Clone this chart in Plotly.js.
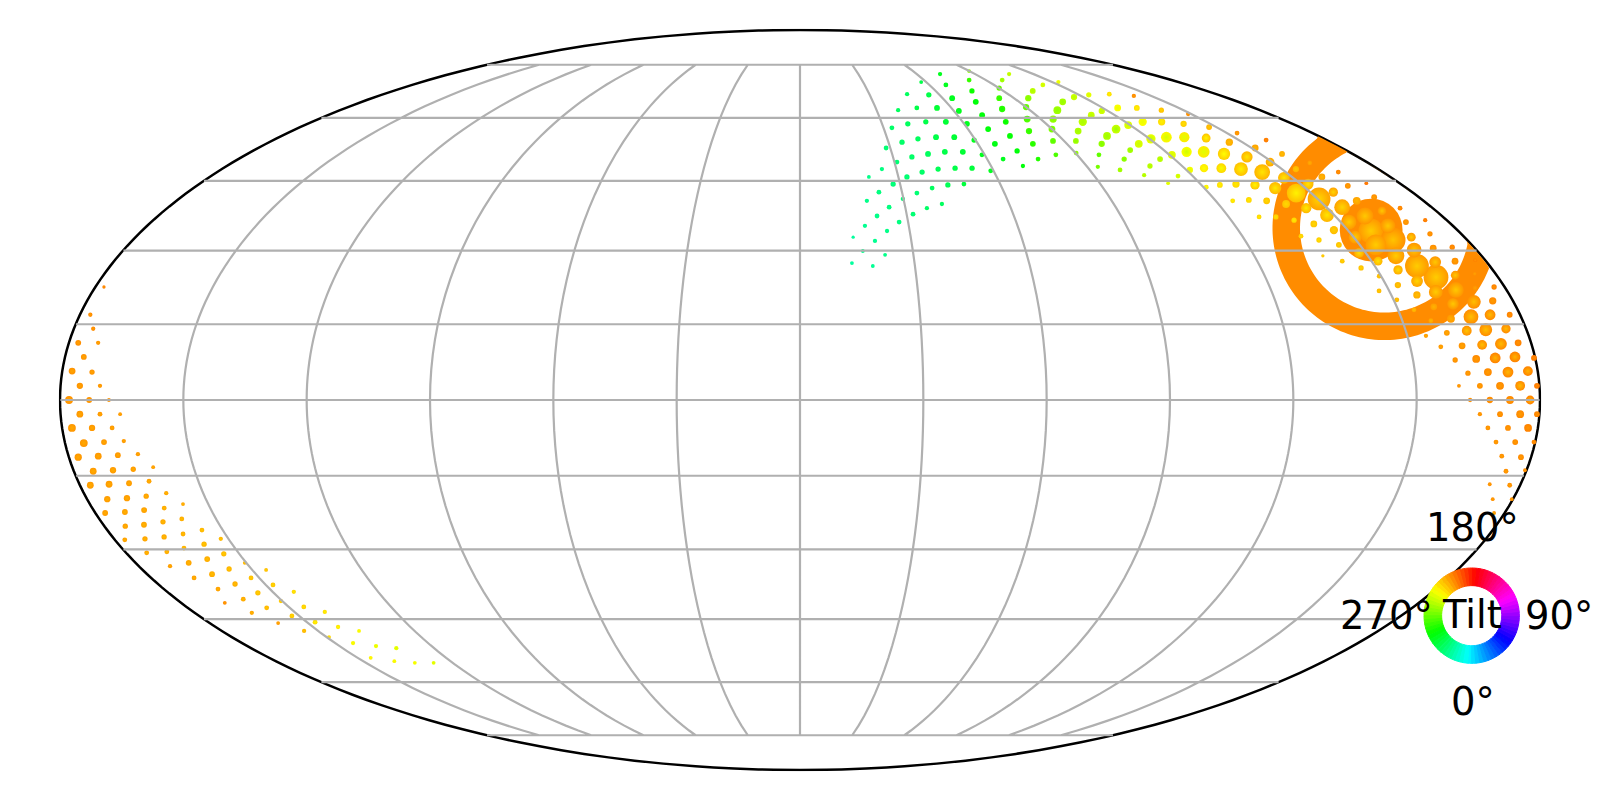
<!DOCTYPE html>
<html>
<head>
<meta charset="utf-8">
<script src="https://cdn.plot.ly/plotly-3.0.1.min.js"></script>
<style>html,body{margin:0;padding:0;background:#fff}</style>
</head>
<body>
<div id="chart" style="width:1600px;height:800px"></div>
<script>
////////////////// data ////////////////////////
const lon = [
89.8,72.0,57.6,67.7,81.9,76.1,64.0,55.4,46.3,72.2,54.3,46.3,
38.4,61.9,69.4,53.8,46.4,39.4,61.0,33.0,67.2,53.3,47.0,40.5,
34.6,59.5,28.6,65.7,53.4,47.5,41.7,36.1,59.1,30.8,25.5,53.7,
48.4,43.0,37.7,32.6,59.1,21.0,49.1,44.2,39.2,34.3,27.9,23.2,
29.8,19.3,40.7,36.1,25.4,31.8,21.6,27.5,17.9,23.8,14.4,20.2,
16.7,22.5,13.6,19.0,97.9,107.5,90.1,83.8,79.6,75.9,72.9,71.4,
65.1,70.0,76.3,83.1,78.5,86.2,94.0,90.2,81.1,90.0,98.5,84.9,
94.6,104.3,90.0,100.7,96.0,107.9,103.0,116.1,112.7,122.8,111.0,124.2,
133.7,142.5,117.6,125.9,133.5,141.4,148.8,106.6,112.9,119.3,126.4,133.4,
140.2,147.4,153.5,159.3,101.7,114.2,108.9,120.5,126.6,132.8,139.9,145.6,
151.2,97.1,103.9,115.4,120.8,126.8,132.4,138.1,144.2,149.3,93.3,99.4,
109.9,121.1,126.1,131.5,137.3,142.7,105.4,115.5,110.5,120.8,125.5,130.6,
136.0,141.0,124.9,129.8,134.7,128.5,133.2,157.0,161.5,154.4,147.2,159.1,
166.2,163.4,170.0,152.2,145.6,156.8,150.4,139.4,144.0,160.7,167.0,154.5,
148.0,170.7,137.5,142.1,174.0,168.1,146.2,171.5,165.6,135.9,140.0,144.4,
174.2,168.9,163.4,138.1,142.3,171.9,166.5,161.0,155.4,146.1,177.4,174.6,
149.5,169.3,164.0,158.5,153.0,177.3,172.3,147.4,167.1,161.7,156.5,150.8,
174.9,170.0,164.5,159.3,154.0,177.4,172.5,167.5,162.3,157.1,175.0,169.9,
165.1,160.0,154.6,176.8,172.5,167.8,162.8,157.5,175.1,170.2,165.5,160.3,
179.7,177.6,172.7,167.8,162.9,179.4,175.3,170.4,165.5,160.4,177.6,172.7,
167.8,163.0,179.4,175.3,170.4,165.5,177.6,172.7,167.8,179.7,175.1,170.4,
177.5,172.7,179.6,175.0,177.4,172.3,179.7,174.9,177.3,-177.8,-177.4,-175.2,
-177.7,-172.8,-175.4,-177.6,-172.7,-175.3,-170.4,-177.8,-172.9,-168.1,-175.3,-170.4,
-165.5,-177.6,-172.7,-167.8,-175.4,-170.4,-165.5,-177.7,-172.7,-167.8,-162.8,-175.2,
-170.2,-165.1,-160.0,-177.4,-172.6,-167.5,-162.3,-174.9,-169.8,-164.7,-159.3,-156.4,
-177.5,-172.3,-167.1,-161.7,-158.8,-174.6,-169.5,-164.1,-161.0,-177.4,-171.9,-166.5,
-174.5,-168.9,-163.5,-155.4,-152.0,-157.4,-154.1,-150.4,-146.2,-171.5,-165.6,-159.7,
-168.1,-162.1,-156.1,-152.3,-164.7,-158.4,-148.0,-144.0,-154.5,-160.7,-167.3,-150.4,
-156.8,-145.6,-141.0,-163.0,-152.2,-147.5,-159.1,-142.3,-137.3,-154.4,-149.2,-144.2,
-138.1,-132.4,-145.6,-139.3,-133.1,-126.6,156.4,158.4,152.3,156.1,162.1,160.0,
154.3,150.4,148.2,164.7,151.7,157.4
];
const lat = [
73.0,72.1,69.7,68.9,70.3,67.2,65.2,66.1,66.3,64.2,62.6,62.6,
62.0,61.8,60.7,59.0,59.0,58.5,58.5,57.5,57.2,55.2,55.2,54.8,
54.0,54.5,52.6,53.6,51.7,51.7,51.2,50.5,51.0,49.3,47.7,47.9,
47.9,47.7,47.0,45.9,47.3,45.9,44.3,44.1,43.4,42.3,44.3,42.5,
41.0,40.6,39.9,39.0,39.2,37.7,37.3,36.0,35.2,34.1,32.8,32.0,
29.9,29.1,27.4,26.8,70.3,72.1,68.0,65.2,62.3,59.0,55.5,51.9,
50.0,48.4,50.0,51.0,53.6,54.3,54.3,51.4,56.7,57.2,56.7,59.7,
59.7,59.0,62.8,62.0,65.2,64.2,67.2,65.5,68.9,69.7,60.7,66.1,
66.3,65.8,61.8,62.6,62.6,62.0,61.0,55.5,57.2,58.2,59.0,59.0,
58.5,57.7,56.2,54.5,53.6,53.6,52.1,54.8,55.2,55.2,55.0,54.0,
52.6,51.0,50.0,50.0,51.0,51.7,51.7,51.2,50.5,49.3,48.2,47.5,
48.4,47.5,47.9,47.9,47.7,47.0,46.3,46.1,44.5,43.6,44.1,44.3,
44.1,43.4,40.6,40.8,40.6,37.1,37.1,51.2,49.1,47.7,45.7,45.9,
47.0,43.9,44.5,44.3,42.3,42.5,41.0,39.9,39.0,40.6,41.4,39.2,
37.5,39.0,36.4,35.6,36.4,36.0,34.3,33.5,32.8,33.0,32.2,31.2,
30.7,30.5,30.1,28.9,27.8,27.8,27.6,26.8,26.0,26.4,28.0,25.2,
24.7,24.9,24.5,23.7,22.9,22.5,22.3,21.7,21.9,21.5,20.9,19.9,
19.7,19.5,19.1,18.5,17.9,16.9,16.9,16.5,16.1,15.7,14.1,13.9,
13.7,13.3,12.7,11.3,11.1,10.9,10.7,10.5,8.5,8.3,8.1,7.9,
8.3,5.7,5.5,5.5,5.3,2.8,2.8,2.8,2.8,2.8,0.0,0.0,
0.0,0.0,-2.8,-2.8,-2.8,-2.8,-5.5,-5.5,-5.5,-8.3,-8.3,-8.3,
-11.3,-11.1,-13.9,-14.1,-16.9,-16.7,-19.7,-19.7,-22.5,22.5,16.9,14.1,
11.3,11.3,8.5,5.7,5.5,2.8,2.8,0.0,0.0,0.0,-2.8,-2.8,
-2.8,-5.5,-5.5,-5.5,-8.5,-8.3,-8.1,-11.3,-11.1,-10.9,-10.7,-14.1,
-13.9,-13.7,-13.3,-16.9,-16.7,-16.5,-16.1,-19.7,-19.5,-19.1,-18.5,-20.7,
-22.5,-22.3,-21.9,-21.5,-23.7,-25.2,-24.9,-24.3,-26.8,-28.0,-27.8,-27.4,
-30.7,-30.5,-29.7,-26.0,-27.8,-28.9,-30.9,-32.8,-34.3,-33.5,-32.8,-32.0,
-36.0,-35.2,-34.1,-36.0,-38.4,-37.3,-37.5,-39.0,-39.2,-40.6,-41.4,-41.0,
-42.5,-42.3,-43.4,-43.6,-44.3,-45.7,-45.9,-46.8,-47.7,-47.7,-49.1,-50.5,
-51.2,-51.7,-54.0,-54.8,-55.2,-55.2,34.3,37.3,36.0,34.1,35.2,32.2,
31.2,32.8,29.5,38.4,27.8,28.9
];
const weight = [
3,3.5,3,4,4,4.5,5,4.5,3.5,5,5,4,3.5,5,5,5,4.5,4.5,5,4,
5,5,5,4.5,4.5,4.5,4,5,5,5,5,4.5,4,4,3.5,4.5,4.5,4.5,4.5,4.5,
4,3,4,4.5,4,4,4.5,4,3.5,3.5,3.5,3.5,4,4,4,4,3.5,3.5,2.5,3.5,
3,3,3,3,
4,3.5,4.5,5,5.5,5,5,4.5,4,3.5,4,4,5,5,5,4,5.5,6,6,6,
6.5,7.5,5.5,7,5.5,6,5,5.5,4,3.5,
6,4.5,4,3.5,5.5,6,5,4.5,3.5,7,8,7,7.5,6.5,5.5,5,4,4,5.5,7,
5,8.5,10,9.5,8,6.5,6,4,4.5,5,7,9.5,11,11.5,10.5,8,3.5,4,4.5,5.5,
7.5,9,13,15,3.5,4,3,4,5,6.5,8.5,11.5,4,5,6,4,4.5,
5,4,5.5,11,6,4,5,3,10,18,8.5,22,7,9.5,7,5,15,13,4,4.5,
6,3.5,5,7.5,4.5,8,4,4.5,5,4.5,6,14,2.5,4,6,11,23,8.5,4.5,3,
3.5,4,8,24,11,5.5,4.5,5,4,15,13,6.5,4,6.5,13,11,6,4,5,10,
14,7,4,8.5,12,9,5,3.5,6,11,9,6,4,
10,10,7,4.5,5,9,10,7,4.5,5,9,7,5,3,8,7,5.5,3.5,5,7,
5,3.5,7,5,4,4,5,4,5,4,3,4,4,3,3,3,3,
2.5,3.5,3.5,5,3.5,5,6,4.5,5.5,3.5,7,5,3,6,4,3,7,5.5,4,7,
5,3.5,6.5,6,5,3.5,6,5.5,4.5,3,6,6,5,4,5.5,5.5,4.5,3.5,3,5,
5,5,4,4,4.5,5,4.5,4,4,4.5,4.5,4,4,4,
4,3.5,4.5,4.5,3,3,3.5,5,5,4,5,4.5,4,4,4.5,4,3.5,4.5,4,3,
3.5,4,4,3.5,3.5,4,4,3,3.5,3,3.5,3,3.5,3.5,3.5,3,3,3,3,
62,16,14,24,14,24,20,12,9,8,8,16
];
const tilt = [
265,305,315,305,285,295,305,315,320,300,310,315,320,305,300,310,315,320,305,322,
300,310,315,320,322,305,325,302,310,315,320,322,305,325,328,312,315,318,322,325,
305,330,312,318,320,325,326,328,326,330,320,322,328,325,330,328,332,330,335,332,
332,330,335,333,
260,252,275,285,290,295,298,300,305,300,290,280,288,275,262,265,285,270,258,280,
265,255,275,262,265,260,255,252,248,242,
252,245,232,212,250,240,232,225,212,258,252,247,240,232,228,222,213,208,265,248,
260,244,238,235,226,220,218,275,265,255,245,240,235,228,222,218,270,260,255,242,
235,230,225,222,255,248,245,236,232,230,226,223,232,230,226,230,228,
220,216,222,222,218,210,213,206,222,225,218,218,226,223,218,213,218,222,210,230,
226,208,213,224,212,216,228,228,225,210,213,215,225,225,213,215,216,220,225,210,
213,223,215,216,218,222,210,213,223,215,216,220,222,212,213,215,217,220,210,212,
213,216,218,212,213,214,215,216,210,212,213,214,215,
210,210,212,213,208,210,211,212,213,208,212,212,213,213,210,212,212,213,210,212,
212,213,210,212,213,210,212,213,212,213,212,213,213,213,213,213,214,
210,212,212,213,214,214,214,214,214,214,214,214,214,215,215,215,215,215,215,215,
215,215,215,215,215,215,216,216,216,216,216,216,216,217,216,216,217,218,218,216,
217,217,219,220,217,218,219,220,217,218,219,218,219,221,
222,222,222,223,222,224,216,218,220,217,220,222,224,217,220,226,230,224,219,212,
226,222,228,232,218,226,232,215,234,238,222,230,238,242,244,236,238,240,244,
213,215,216,216,215,214,216,216,220,215,222,216
];
const gridLats = [-75, -60, -45, -30, -15, 0, 15, 30, 45, 60, 75];
const gridLons = [-150, -120, -90, -60, -30, 0, 30, 60, 90, 120, 150];
const wheelTicks = ["0°", "90°", "180°", "270°"];
const wheelTitle = "Tilt";

////////////////// helpers ////////////////////////
// wheel colours: 0 tilt is cyan, going round the hue circle
function tiltColor(t, shift) {
  return "hsl(" + ((t + 180 + (shift || 0)) % 360) + ",100%,50%)";
}

// lighter core of a marker, stronger on the bigger ones, none on the huge one
function coreShift(w) {
  if (w > 40) return 0;
  return w < 8 ? 5 : 12;
}

// map plane (half width = 1) back to lon/lat, stops just inside the frame
function planeToGeo(x, y) {
  const th = Math.asin(2 * y);
  const la = Math.asin((2 * th + Math.sin(2 * th)) / Math.PI) * 180 / Math.PI;
  const lo = 180 * x / Math.cos(th);
  return [Math.max(-179.6, Math.min(179.6, lo)), la];
}

// biggest markers first so small ones stay on top
const order = lon.map((_, i) => i).sort((a, b) => weight[b] - weight[a]);

////////////////// ring behind the points ////////////////////////
const ringCenter = [0.7899, 0.2324];
const ringOuter = 0.1514;
const ringInner = 0.1142;
const ringLon = [];
const ringLat = [];
for (let a = 405; a >= 45; a -= 2) {
  const r = a * Math.PI / 180;
  const g = planeToGeo(ringCenter[0] + ringOuter * Math.cos(r), ringCenter[1] + ringOuter * Math.sin(r));
  ringLon.push(g[0]);
  ringLat.push(g[1]);
}
for (let a = 45; a <= 405; a += 2) {
  const r = a * Math.PI / 180;
  const g = planeToGeo(ringCenter[0] + ringInner * Math.cos(r), ringCenter[1] + ringInner * Math.sin(r));
  ringLon.push(g[0]);
  ringLat.push(g[1]);
}

////////////////// grid lines, capped at 75 like the original ////////////////////////
const gridLon = [];
const gridLat = [];
gridLats.forEach((la) => {
  for (let lo = -179.9; lo <= 179.9; lo += 3) {
    gridLon.push(lo);
    gridLat.push(la);
  }
  gridLon.push(179.9, null);
  gridLat.push(la, null);
});
gridLons.forEach((lo) => {
  for (let la = -75; la <= 75; la += 3) {
    gridLon.push(lo);
    gridLat.push(la);
  }
  gridLon.push(null);
  gridLat.push(null);
});

////////////////// colour wheel ////////////////////////
const wheelSteps = [];
for (let t = 0; t < 360; t += 5) wheelSteps.push(t);
const wheelColors = wheelSteps.map((t) => tiltColor(t + 2.5));

const data = [
  {
    type: "scattergeo",
    mode: "lines",
    lon: ringLon,
    lat: ringLat,
    fill: "toself",
    fillcolor: "#ff8c00",
    line: { width: 0, color: "#ff8c00" },
    hoverinfo: "skip",
  },
  {
    type: "scattergeo",
    mode: "markers",
    lon: order.map((i) => lon[i]),
    lat: order.map((i) => lat[i]),
    marker: {
      size: order.map((i) => weight[i] + 0.8),
      opacity: 1,
      color: order.map((i) => tiltColor(tilt[i])),
      gradient: {
        type: "radial",
        color: order.map((i) => tiltColor(tilt[i], coreShift(weight[i]))),
      },
      line: { width: 0 },
    },
    hoverinfo: "skip",
  },
  {
    type: "scattergeo",
    mode: "lines",
    lon: gridLon,
    lat: gridLat,
    line: { width: 2.2, color: "#b0b0b0" },
    hoverinfo: "skip",
  },
  {
    type: "pie",
    values: wheelSteps.map(() => 1),
    marker: { colors: wheelColors, line: { color: wheelColors, width: 1 } },
    sort: false,
    direction: "counterclockwise",
    rotation: 180,
    hole: 0.63,
    textinfo: "none",
    hoverinfo: "skip",
    domain: { x: [0.89, 0.9496], y: [0.1708, 0.29] },
  },
];

function wheelLabel(text, x, y) {
  return {
    text,
    xref: "paper",
    yref: "paper",
    x,
    y,
    xanchor: "center",
    yanchor: "middle",
    showarrow: false,
    font: { family: "DejaVu Sans", size: 38.5, color: "#000" },
  };
}

const layout = {
  width: 1600,
  height: 800,
  margin: { l: 0, r: 0, t: 0, b: 0 },
  paper_bgcolor: "#fff",
  showlegend: false,
  geo: {
    projection: { type: "mollweide" },
    domain: { x: [0.0375, 0.9625], y: [0.0375, 0.9625] },
    showframe: true,
    framecolor: "#000",
    framewidth: 2.5,
    showcoastlines: false,
    showland: false,
    showocean: false,
    showlakes: false,
    showcountries: false,
    bgcolor: "#fff",
  },
  annotations: [
    wheelLabel(wheelTicks[2], 0.9206, 0.3404),
    wheelLabel(wheelTicks[1], 0.9744, 0.2312),
    wheelLabel(wheelTicks[0], 0.9206, 0.1237),
    wheelLabel(wheelTicks[3], 0.8663, 0.2312),
    wheelLabel(wheelTitle, 0.9198, 0.2325),
  ],
};

Plotly.newPlot("chart", data, layout, { displayModeBar: false, staticPlot: true });
</script>
</body>
</html>
